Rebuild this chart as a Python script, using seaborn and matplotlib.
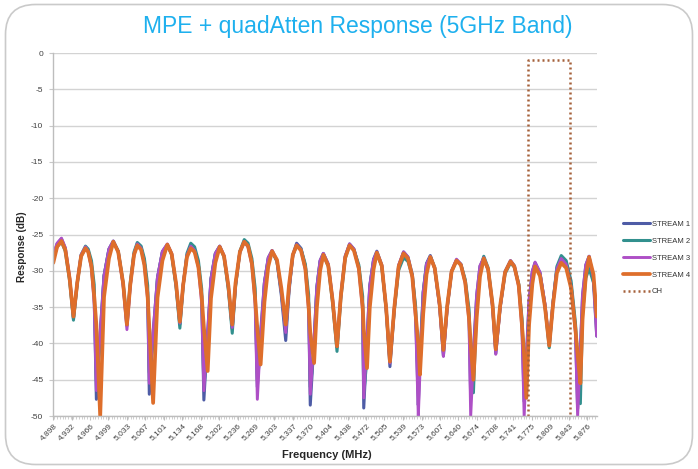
import numpy as np
import pandas as pd
import matplotlib
matplotlib.use("Agg")
import matplotlib.pyplot as plt
import seaborn as sns
from matplotlib.patches import FancyBboxPatch
from matplotlib.transforms import IdentityTransform
from matplotlib.ticker import FixedLocator, MultipleLocator

# Measured response per stream (frequency in MHz, response in dB)
freq_mhz = [
    4898, 4905, 4913, 4920, 4928, 4935,
    4942, 4949, 4957, 4962, 4968, 4973, 4977, 4984,
    4991, 5000, 5008, 5017, 5026, 5033,
    5039, 5046, 5052, 5059, 5065, 5071, 5074, 5081,
    5089, 5098, 5107, 5115, 5123, 5130,
    5136, 5143, 5150, 5157, 5164, 5170, 5174, 5181,
    5187, 5195, 5203, 5211, 5219, 5226,
    5232, 5240, 5248, 5255, 5262, 5268, 5272, 5278,
    5285, 5292, 5299, 5308, 5316, 5324,
    5330, 5337, 5344, 5352, 5360, 5366, 5369, 5376,
    5381, 5387, 5393, 5402, 5410, 5418,
    5425, 5433, 5441, 5449, 5458, 5465, 5467, 5473,
    5478, 5485, 5491, 5500, 5508, 5515,
    5523, 5531, 5540, 5548, 5556, 5562, 5567, 5570,
    5576, 5582, 5589, 5597, 5606, 5613,
    5620, 5628, 5637, 5645, 5653, 5660, 5663, 5668,
    5674, 5680, 5687, 5695, 5703, 5709,
    5717, 5726, 5736, 5743, 5751, 5757, 5761, 5765,
    5770, 5776, 5781, 5790, 5799, 5807,
    5814, 5821, 5829, 5838, 5847, 5855, 5859, 5864,
    5868, 5874, 5880, 5888, 5894,
]

stream1 = [
    -28.0, -26.3, -25.6, -26.9, -31.1, -36.6,
    -31.7, -28.0, -26.8, -27.3, -29.4, -33.5, -47.7, -38.5,
    -30.7, -27.0, -25.9, -27.3, -31.8, -37.6,
    -32.0, -27.7, -26.3, -26.8, -28.9, -33.0, -47.0, -38.5,
    -31.0, -27.4, -26.4, -27.7, -31.9, -37.4,
    -32.0, -27.9, -26.6, -27.2, -29.2, -33.5, -47.8, -38.5,
    -31.1, -27.6, -26.6, -28.0, -32.3, -38.0,
    -32.0, -27.4, -26.0, -26.6, -28.9, -33.5, -46.0, -38.5,
    -31.6, -28.2, -27.2, -28.7, -33.4, -39.6,
    -32.9, -27.8, -26.2, -26.9, -29.4, -34.5, -48.5, -39.5,
    -32.3, -28.6, -27.6, -29.1, -34.1, -40.5,
    -33.4, -28.0, -26.3, -27.0, -29.5, -34.7, -48.9, -39.5,
    -32.1, -28.4, -27.3, -29.2, -35.3, -43.2,
    -35.3, -29.3, -27.4, -28.1, -30.5, -35.5, -48.5, -42.0,
    -32.9, -29.0, -27.9, -29.6, -34.8, -41.7,
    -35.1, -30.1, -28.5, -29.1, -31.5, -36.3, -47.5, -41.0,
    -33.4, -29.4, -28.3, -29.9, -34.9, -41.4,
    -35.0, -30.1, -28.6, -29.3, -31.9, -37.2, -48.0, -42.0,
    -34.1, -30.1, -28.9, -30.3, -34.6, -40.3,
    -34.3, -29.7, -28.3, -29.1, -32.0, -38.0, -49.0, -41.0,
    -33.4, -29.2, -28.0, -31.5, -39.0,
]

stream2 = [
    -28.4, -26.7, -26.0, -27.3, -31.4, -36.8,
    -31.7, -27.8, -26.6, -27.0, -28.6, -31.9, -45.0, -40.0,
    -30.7, -27.1, -26.0, -27.3, -31.6, -37.2,
    -31.7, -27.4, -26.1, -26.6, -28.3, -32.0, -44.0, -40.0,
    -31.0, -27.4, -26.4, -27.8, -32.2, -37.9,
    -32.1, -27.6, -26.2, -26.7, -28.6, -32.5, -46.0, -40.0,
    -31.2, -27.7, -26.7, -28.1, -32.7, -38.6,
    -32.2, -27.3, -25.7, -26.2, -28.3, -32.4, -45.0, -41.0,
    -31.7, -28.4, -27.4, -28.7, -32.9, -38.4,
    -32.5, -27.9, -26.5, -27.0, -29.1, -33.3, -46.0, -41.0,
    -32.4, -28.8, -27.8, -29.4, -34.5, -41.1,
    -33.8, -28.3, -26.5, -27.1, -29.2, -33.5, -47.0, -42.0,
    -32.3, -28.6, -27.6, -29.4, -35.1, -42.6,
    -35.4, -29.9, -28.2, -28.7, -30.7, -34.8, -46.0, -43.0,
    -33.0, -29.1, -28.0, -29.6, -34.6, -41.2,
    -34.9, -30.1, -28.6, -29.1, -31.2, -35.3, -42.0, -46.8,
    -35.0, -29.8, -28.0, -29.6, -34.5, -41.0,
    -35.0, -30.4, -28.9, -29.5, -31.8, -36.5, -44.0, -47.0,
    -35.3, -30.4, -29.0, -30.4, -34.8, -40.6,
    -34.3, -29.4, -27.9, -28.6, -31.4, -37.2, -42.0, -48.3,
    -35.9, -31.0, -29.7, -31.6, -35.8,
]

stream3 = [
    -27.8, -26.2, -25.5, -26.8, -30.9, -36.2,
    -31.5, -27.8, -26.7, -27.3, -29.7, -34.5, -46.5, -38.5,
    -30.7, -27.0, -25.9, -27.4, -32.0, -38.1,
    -32.2, -27.7, -26.3, -26.9, -29.2, -34.0, -45.5, -38.5,
    -30.9, -27.3, -26.3, -27.6, -31.8, -37.2,
    -31.9, -27.9, -26.6, -27.2, -29.6, -34.5, -46.5, -38.5,
    -31.1, -27.6, -26.6, -27.9, -32.2, -37.8,
    -31.9, -27.4, -26.0, -26.7, -29.2, -34.5, -47.7, -39.0,
    -31.6, -28.2, -27.2, -28.6, -32.9, -38.5,
    -32.5, -27.9, -26.4, -27.1, -29.9, -35.5, -47.0, -39.5,
    -32.3, -28.6, -27.6, -29.1, -34.0, -40.4,
    -33.4, -28.0, -26.3, -27.0, -29.8, -35.5, -47.5, -39.5,
    -32.1, -28.5, -27.4, -29.2, -35.1, -42.7,
    -35.1, -29.2, -27.4, -28.1, -30.9, -36.5, -50.0, -44.0,
    -33.0, -29.1, -28.0, -29.7, -34.9, -41.8,
    -35.1, -30.0, -28.4, -29.1, -31.7, -37.0, -50.0, -42.0,
    -33.3, -29.3, -28.2, -29.8, -34.9, -41.5,
    -35.1, -30.2, -28.6, -29.4, -32.2, -38.0, -50.0, -43.0,
    -34.1, -30.0, -28.8, -30.2, -34.5, -40.2,
    -34.3, -29.7, -28.3, -29.1, -32.2, -38.5, -50.0, -41.0,
    -33.4, -29.2, -28.0, -31.0, -39.0,
]

stream4 = [
    -28.9, -26.7, -25.9, -27.1, -31.1, -36.3,
    -31.6, -28.0, -26.9, -27.4, -29.4, -33.5, -37.5, -50.0,
    -33.6, -28.3, -26.0, -27.4, -31.7, -37.4,
    -32.0, -27.8, -26.5, -27.1, -29.2, -33.6, -37.8, -48.2,
    -33.7, -28.6, -26.4, -27.7, -31.7, -37.0,
    -32.0, -28.1, -26.9, -27.4, -29.5, -33.6, -37.8, -43.8,
    -33.8, -28.9, -26.7, -28.0, -32.1, -37.4,
    -31.7, -27.4, -26.0, -26.6, -29.0, -33.9, -38.0, -42.9,
    -34.3, -29.4, -27.3, -28.5, -32.4, -37.4,
    -32.0, -27.8, -26.5, -27.2, -29.7, -35.0, -38.5, -42.7,
    -35.1, -30.0, -27.8, -29.3, -34.1, -40.4,
    -33.5, -28.2, -26.5, -27.2, -29.7, -35.0, -38.0, -43.4,
    -35.1, -29.8, -27.5, -29.3, -35.0, -42.5,
    -35.1, -29.4, -27.6, -28.3, -30.8, -36.0, -40.0, -44.3,
    -35.9, -30.5, -28.1, -29.6, -34.5, -40.9,
    -34.8, -30.1, -28.6, -29.2, -31.6, -36.6, -40.0, -45.0,
    -36.4, -30.8, -28.3, -29.8, -34.6, -40.8,
    -34.8, -30.2, -28.7, -29.4, -32.0, -37.5, -41.5, -47.5,
    -37.4, -31.8, -29.4, -30.7, -34.9, -40.3,
    -34.6, -30.3, -28.9, -29.6, -32.4, -38.1, -41.5, -45.5,
    -36.7, -30.7, -28.1, -30.5, -36.3,
]

# Channel marker (dotted outline)
ch_freq_mhz = [5768, 5768, 5845, 5845]
ch_db = [-50, -1, -1, -50]

series_names = ["STREAM 1", "STREAM 2", "STREAM 3", "STREAM 4"]
series_values = [stream1, stream2, stream3, stream4]
series_colors = ["#4E5CA6", "#32908E", "#AE4FC6", "#DE6E2B"]
series_widths = [2.2, 2.2, 2.1, 2.7]

x_tick_labels = [
    "4,898", "4,932", "4,966", "4,999", "5,033", "5,067", "5,101", "5,134",
    "5,168", "5,202", "5,236", "5,269", "5,303", "5,337", "5,370", "5,404",
    "5,438", "5,472", "5,505", "5,539", "5,573", "5,607", "5,640", "5,674",
    "5,708", "5,741", "5,775", "5,809", "5,843", "5,876",
]
y_ticks = [0, -5, -10, -15, -20, -25, -30, -35, -40, -45, -50]

title_text = "MPE + quadAtten Response (5GHz Band)"

sns.set_theme(style="white")
plt.rcParams["font.family"] = ["Liberation Sans", "DejaVu Sans"]
plt.rcParams["axes.unicode_minus"] = False

W, H = 698, 469
fig = plt.figure(figsize=(W / 100, H / 100), dpi=100)
fig.patch.set_facecolor("white")
ax = fig.add_axes([53 / W, 1 - 416 / H, 544 / W, 363 / H])

long_df = pd.concat(
    [pd.DataFrame({"freq": freq_mhz, "db": vals, "series": name})
     for name, vals in zip(series_names, series_values)],
    ignore_index=True,
)

for name, color, lw in zip(series_names, series_colors, series_widths):
    sub = long_df[long_df["series"] == name]
    sns.lineplot(data=sub, x="freq", y="db", color=color, lw=lw,
                 estimator=None, sort=False, label=name, ax=ax,
                 solid_joinstyle="round", solid_capstyle="round")

sns.lineplot(x=ch_freq_mhz, y=ch_db, color="#A5603A", lw=1.8,
             linestyle=(0, (0.8, 1.2)), estimator=None, sort=False,
             label="CH", ax=ax)

ax.set_xlim(4897.5, 5894.5)
ax.set_ylim(-50, 0)

x_tick_pos = [float(s.replace(",", ".")) * 1000 for s in x_tick_labels]
ax.xaxis.set_major_locator(FixedLocator(x_tick_pos))
ax.set_xticklabels(x_tick_labels, rotation=45, ha="right",
                   rotation_mode="anchor", fontsize=6, color="#404040")
ax.xaxis.set_minor_locator(MultipleLocator(5))
ax.set_yticks(y_ticks)
ax.set_yticklabels([str(v) for v in y_ticks], fontsize=6, color="#404040")

ax.tick_params(axis="x", which="major", bottom=True, length=3, width=0.8,
               color="#BDBDBD", pad=1)
ax.tick_params(axis="x", which="minor", bottom=True, length=2, width=0.6,
               color="#C8C8C8")
ax.tick_params(axis="y", which="major", left=True, length=3, width=0.8,
               color="#C8C8C8", pad=4)

ax.yaxis.grid(True, color="#D3D3D3", lw=1.0)
ax.xaxis.grid(False)
for side in ("top", "right"):
    ax.spines[side].set_visible(False)
for side in ("left", "bottom"):
    ax.spines[side].set_color("#BDBDBD")
    ax.spines[side].set_linewidth(1.0)

ax.set_xlabel("")
ax.set_ylabel("")
fig.text(327 / W, 1 - 455 / H, "Frequency (MHz)", ha="center", va="center",
         fontsize=8, fontweight="bold", color="#262626")
fig.text(22 / W, 1 - 247 / H, "Response (dB)", ha="center", va="center",
         rotation=90, fontsize=7.2, fontweight="bold", color="#262626")
fig.text(358 / W, 1 - 27 / H, title_text, ha="center", va="center",
         fontsize=16.5, color="#1EB0EE")

handles, labels = ax.get_legend_handles_labels()
ax.legend(handles, labels, loc="center left",
          bbox_to_anchor=((623 - 53) / 544, (416 - 258) / 363),
          frameon=False, fontsize=5.5, handlelength=3.5, handletextpad=0.3,
          labelspacing=1.25, borderpad=0, borderaxespad=0,
          labelcolor="#333333")

frame = FancyBboxPatch((5.5, 4.5), 687, 460,
                       boxstyle="round,pad=0,rounding_size=30",
                       transform=IdentityTransform(), fill=False,
                       ec="#CACACA", lw=1.2)
fig.add_artist(frame)

fig.savefig("out.png", dpi=100)
